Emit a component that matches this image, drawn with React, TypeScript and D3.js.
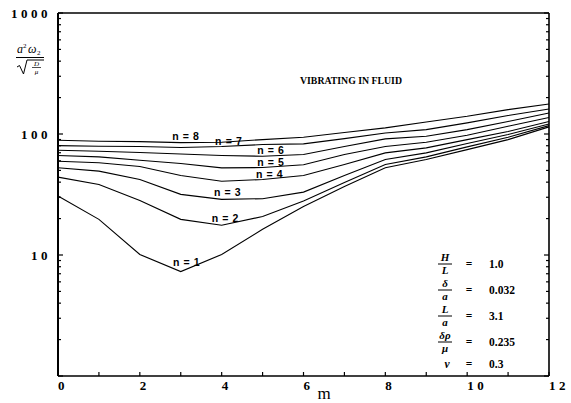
import React, { useRef, useEffect } from 'react';
import * as d3 from 'd3';

// m values along the x axis
const mValues = [0, 1, 2, 3, 4, 5, 6, 7, 8, 9, 10, 11, 12];

// a^2 w2 / sqrt(D/mu) for each mode n
const n1 = [30.7, 19.7, 10.1, 7.3, 10.1, 16.3, 25.2, 36.8, 52.6, 61.5, 74.3, 89.9, 114.5];
const n2 = [44, 38.3, 28.2, 19.7, 17.6, 20.8, 27.9, 39.7, 56, 64.7, 78.3, 94, 117.3];
const n3 = [52.6, 49.3, 42.1, 31.7, 28.8, 29.2, 33.1, 45.4, 61.5, 69.8, 83.4, 98.9, 121];
const n4 = [59.6, 57.8, 53.9, 45.4, 40.7, 42.1, 45.4, 56, 69.8, 76.8, 89.9, 105, 127];
const n5 = [66.4, 64.7, 60.7, 57, 52.5, 52.8, 55.7, 67.6, 78.8, 85.4, 97.6, 116, 137];
const n6 = [73.4, 72, 70.3, 68.3, 66.4, 65.5, 67.6, 78.8, 91.2, 95.8, 108.7, 127, 149];
const n7 = [80.2, 79.2, 78.8, 77.3, 78.8, 81.8, 82.8, 91.6, 102, 108.7, 123.5, 142, 161];
const n8 = [88.7, 87.1, 86.5, 84.9, 85.4, 89.9, 94, 102.8, 112.3, 125.8, 140, 159, 177];

const seriesNames = ['n = 1', 'n = 2', 'n = 3', 'n = 4', 'n = 5', 'n = 6', 'n = 7', 'n = 8'];
// where each curve label starts (in m)
const labelM = [2.81, 3.76, 3.81, 4.84, 4.87, 4.87, 3.84, 2.79];

const xTicks = [0, 2, 4, 6, 8, 10, 12];
const yTicks = [1000, 100, 10];

const params = [
  { num: 'H', den: 'L', value: '1.0' },
  { num: 'δ', den: 'a', value: '0.032' },
  { num: 'L', den: 'a', value: '3.1' },
  { num: 'δρ', den: 'μ', value: '0.235' },
];

const App = () => {
  const svgRef = useRef(null);

  useEffect(() => {
    const width = 571;
    const height = 403;
    const left = 58, right = 549, top = 13, bottom = 376;

    const svg = d3.select(svgRef.current)
      .attr('width', width)
      .attr('height', height);
    svg.selectAll('*').remove();

    const x = d3.scaleLinear().domain([0, 12]).range([left, right]);
    const y = d3.scaleLog().domain([1, 1000]).range([bottom, top]);

    const series = [n1, n2, n3, n4, n5, n6, n7, n8];

    // frame
    svg.append('line').attr('x1', left).attr('x2', left).attr('y1', top).attr('y2', bottom)
      .attr('stroke', '#000').attr('stroke-width', 2);
    svg.append('line').attr('x1', left).attr('x2', right).attr('y1', bottom).attr('y2', bottom)
      .attr('stroke', '#000').attr('stroke-width', 1.6);
    svg.append('line').attr('x1', left).attr('x2', right).attr('y1', top).attr('y2', top)
      .attr('stroke', '#000').attr('stroke-width', 1.4);
    svg.append('line').attr('x1', right).attr('x2', right).attr('y1', top).attr('y2', bottom)
      .attr('stroke', '#000').attr('stroke-width', 1.6);

    // log ticks, inward on both sides
    const logTicks = y.ticks(20);
    logTicks.forEach((t) => {
      const major = [1, 10, 100, 1000].includes(t);
      const len = major ? 5 : 3;
      svg.append('line').attr('x1', left).attr('x2', left + len).attr('y1', y(t)).attr('y2', y(t))
        .attr('stroke', '#000').attr('stroke-width', 1.2);
      svg.append('line').attr('x1', right).attr('x2', right - len).attr('y1', y(t)).attr('y2', y(t))
        .attr('stroke', '#000').attr('stroke-width', 1.2);
    });

    // x ticks, inward
    d3.range(0, 13).forEach((t) => {
      svg.append('line').attr('x1', x(t)).attr('x2', x(t)).attr('y1', bottom).attr('y2', bottom - 4)
        .attr('stroke', '#000').attr('stroke-width', 1.2);
    });

    const tickFont = '"Liberation Serif", "DejaVu Serif", serif';

    svg.append('g').selectAll('text')
      .data(xTicks)
      .enter()
      .append('text')
      .attr('x', (d) => x(d))
      .attr('y', bottom + 14)
      .attr('text-anchor', 'start')
      .attr('font-family', tickFont)
      .attr('font-size', 13)
      .attr('font-weight', 'bold')
      .attr('letter-spacing', 3.5)
      .text((d) => String(d));

    svg.append('g').selectAll('text')
      .data(yTicks)
      .enter()
      .append('text')
      .attr('x', 51)
      .attr('y', (d) => y(d) + 5)
      .attr('text-anchor', 'end')
      .attr('font-family', tickFont)
      .attr('font-size', 13)
      .attr('font-weight', 'bold')
      .attr('letter-spacing', 3.5)
      .text((d) => String(d));

    // x axis title
    svg.append('text')
      .attr('x', 324)
      .attr('y', 399)
      .attr('text-anchor', 'middle')
      .attr('font-family', tickFont)
      .attr('font-size', 17)
      .text('m');

    // curves
    const line = d3.line()
      .x((d) => x(d[0]))
      .y((d) => y(d[1]));

    series.forEach((s) => {
      svg.append('path')
        .datum(mValues.map((m, i) => [m, s[i]]))
        .attr('fill', 'none')
        .attr('stroke', '#000')
        .attr('stroke-width', 1.1)
        .attr('d', line);
    });

    // curve labels, sitting on their lines
    const labelFont = '"Liberation Sans Narrow", "Liberation Sans", sans-serif';
    series.forEach((s, k) => {
      const m = labelM[k];
      const i = Math.floor(m);
      const f = m - i;
      const py = y(s[i]) + (y(s[i + 1]) - y(s[i])) * f;
      svg.append('text')
        .attr('x', x(m))
        .attr('y', py - 2)
        .attr('font-family', labelFont)
        .attr('font-size', 10.5)
        .attr('font-weight', 'bold')
        .attr('letter-spacing', 0.6)
        .text(seriesNames[k]);
    });

    // title
    svg.append('text')
      .attr('x', 300)
      .attr('y', 84)
      .attr('font-family', tickFont)
      .attr('font-size', 10.5)
      .attr('font-weight', 'bold')
      .attr('textLength', 102)
      .attr('lengthAdjust', 'spacingAndGlyphs')
      .text('VIBRATING IN FLUID');

    // y axis title: a^2 w2 / sqrt(D / mu)
    const yt = svg.append('g').attr('font-family', tickFont).attr('font-style', 'italic');
    yt.append('text').attr('x', 17).attr('y', 53).attr('font-size', 12).text('a');
    yt.append('text').attr('x', 23).attr('y', 48).attr('font-size', 7).attr('font-style', 'normal').text('2');
    yt.append('text').attr('x', 28).attr('y', 53).attr('font-size', 12).text('ω');
    yt.append('text').attr('x', 37).attr('y', 55).attr('font-size', 7).attr('font-style', 'normal').text('2');
    yt.append('line').attr('x1', 16).attr('x2', 44).attr('y1', 57.5).attr('y2', 57.5)
      .attr('stroke', '#000').attr('stroke-width', 1);
    yt.append('path')
      .attr('d', 'M17,67 L19.5,65.5 L23.5,74 L27,60 L44,60')
      .attr('fill', 'none').attr('stroke', '#000').attr('stroke-width', 1);
    yt.append('text').attr('x', 36.5).attr('y', 66).attr('font-size', 7).attr('text-anchor', 'middle').text('D');
    yt.append('line').attr('x1', 32).attr('x2', 41).attr('y1', 67.5).attr('y2', 67.5)
      .attr('stroke', '#000').attr('stroke-width', 0.7);
    yt.append('text').attr('x', 36.5).attr('y', 74).attr('font-size', 7).attr('text-anchor', 'middle').text('μ');

    // parameter block
    const pg = svg.append('g').attr('font-family', tickFont).attr('font-size', 11.5).attr('font-weight', 'bold');
    const rowY = [264, 290, 316, 342];
    params.forEach((p, i) => {
      const cy = rowY[i];
      pg.append('text').attr('x', 445).attr('y', cy - 3).attr('text-anchor', 'middle')
        .attr('font-size', 11).attr('font-style', 'italic').text(p.num);
      pg.append('line').attr('x1', 438).attr('x2', 452).attr('y1', cy).attr('y2', cy)
        .attr('stroke', '#000').attr('stroke-width', 1);
      pg.append('text').attr('x', 445).attr('y', cy + 10).attr('text-anchor', 'middle')
        .attr('font-size', 11).attr('font-style', 'italic').text(p.den);
      pg.append('text').attr('x', 469).attr('y', cy + 4).attr('text-anchor', 'middle').text('=');
      pg.append('text').attr('x', 489).attr('y', cy + 4).text(p.value);
    });
    pg.append('text').attr('x', 447).attr('y', 368).attr('text-anchor', 'middle')
      .attr('font-style', 'italic').text('ν');
    pg.append('text').attr('x', 469).attr('y', 368).attr('text-anchor', 'middle').text('=');
    pg.append('text').attr('x', 489).attr('y', 368).text('0.3');
  }, []);

  return (
    <svg ref={svgRef} style={{ position: 'absolute', left: 0, top: 0, background: '#fff' }}></svg>
  );
};

export default App;
